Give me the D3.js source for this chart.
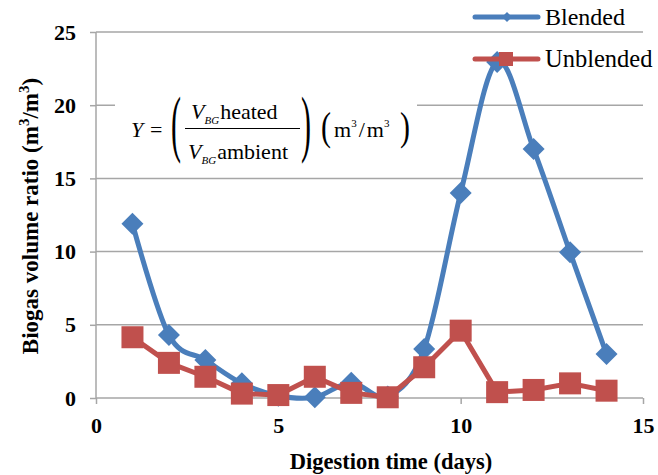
<!DOCTYPE html>
<html>
<head>
<meta charset="utf-8">
<script src="https://cdn.jsdelivr.net/npm/d3@7"></script>
<style>
  body { margin: 0; background: #fff; }
  svg text { font-family: "Liberation Serif", "Times New Roman", "Liberation Sans", Arial, sans-serif; }
</style>
</head>
<body>
<div id="chart"></div>
<script>
// data
var days = [1, 2, 3, 4, 5, 6, 7, 8, 9, 10, 11, 12, 13, 14];
var blended = [11.9, 4.3, 2.6, 1.0, 0.15, 0.05, 1.05, 0.1, 3.35, 14, 22.95, 17, 9.95, 3.0];
var unblended = [4.15, 2.4, 1.45, 0.3, 0.2, 1.45, 0.35, 0.05, 2.1, 4.6, 0.4, 0.55, 1.0, 0.5];
var xTicks = [0, 5, 10, 15];
var yTicks = [0, 5, 10, 15, 20, 25];

var W = 658, H = 475;
var blue = '#4a7ebb', red = '#c0504d', grid = '#a6a6a6';

var svg = d3.select('#chart').append('svg')
  .attr('width', W)
  .attr('height', H);

var x = d3.scaleLinear().domain([0, 15]).range([96, 643]);
var y = d3.scaleLinear().domain([0, 25]).range([398, 32]);

// gridlines
svg.append('g').selectAll('line')
  .data(yTicks.slice(1))
  .enter().append('line')
  .attr('x1', x(0)).attr('x2', x(15))
  .attr('y1', function(d) { return y(d); })
  .attr('y2', function(d) { return y(d); })
  .attr('stroke', grid).attr('stroke-width', 1.5);

// axes
var yAxis = svg.append('g')
  .attr('transform', 'translate(' + x(0) + ',0)')
  .call(d3.axisLeft(y).tickValues(yTicks).tickSize(6).tickPadding(14));
var xAxis = svg.append('g')
  .attr('transform', 'translate(0,' + y(0) + ')')
  .call(d3.axisBottom(x).tickValues(xTicks).tickSize(6).tickPadding(10));

yAxis.attr('font-family', null).attr('font-size', null);
xAxis.attr('font-family', null).attr('font-size', null);
[yAxis, xAxis].forEach(function(a) {
  a.selectAll('path, line').attr('stroke', grid).attr('stroke-width', 1.5);
  a.select('.domain').attr('d', a === yAxis ? 'M0,' + y(25) + 'V' + y(0) : 'M' + x(0) + ',0H' + x(15));
  a.selectAll('text')
    .style('font-size', '22px')
    .style('font-weight', 'bold')
    .attr('fill', '#000');
});
xAxis.selectAll('text').attr('dy', '0.85em');

// axis titles
svg.append('text')
  .attr('x', 391).attr('y', 469)
  .attr('text-anchor', 'middle')
  .style('font-size', '22.5px').style('font-weight', 'bold')
  .text('Digestion time (days)');

var yt = svg.append('text')
  .attr('transform', 'translate(38,216) rotate(-90)')
  .attr('text-anchor', 'middle')
  .style('font-size', '23px').style('font-weight', 'bold');
yt.append('tspan').text('Biogas volume ratio (m');
yt.append('tspan').attr('dy', -9).style('font-size', '15px').text('3');
yt.append('tspan').attr('dy', 9).text('/m');
yt.append('tspan').attr('dy', -9).style('font-size', '15px').text('3');
yt.append('tspan').attr('dy', 9).text(')');

// formula box
svg.append('rect')
  .attr('x', 115).attr('y', 86).attr('width', 302).attr('height', 88)
  .attr('fill', '#fff');

var f = svg.append('g').style('font-size', '22px');
f.append('text').attr('x', 131).attr('y', 137).style('font-style', 'italic').text('Y');
f.append('text').attr('x', 150).attr('y', 137).text('=');
// tall delimiters: normal glyphs stretched vertically
function paren(ch, px, py, sy) {
  f.append('text')
    .attr('transform', 'translate(' + px + ',' + py + ') scale(1,' + sy + ')')
    .style('font-size', '30px').style('font-weight', '300')
    .text(ch);
}
paren('(', 171, 148, 2.5);
paren(')', 301, 148, 2.5);
f.append('line').attr('x1', 185).attr('x2', 300).attr('y1', 128.5).attr('y2', 128.5)
  .attr('stroke', '#000').attr('stroke-width', 1.2);

var num = f.append('text').attr('x', 191).attr('y', 119);
num.append('tspan').style('font-style', 'italic').text('V');
num.append('tspan').attr('dy', 5).style('font-style', 'italic').style('font-size', '11px').text('BG');
num.append('tspan').attr('dy', -5).attr('dx', 1).text('heated');
var den = f.append('text').attr('x', 188).attr('y', 159);
den.append('tspan').style('font-style', 'italic').text('V');
den.append('tspan').attr('dy', 5).style('font-style', 'italic').style('font-size', '11px').text('BG');
den.append('tspan').attr('dy', -5).attr('dx', 1).text('ambient');

paren('(', 321, 140, 1.35);
var units = f.append('text').attr('x', 334).attr('y', 137);
units.append('tspan').text('m');
units.append('tspan').attr('dy', -10).style('font-size', '11px').text('3');
units.append('tspan').attr('dy', 10).attr('dx', 2).text('/');
units.append('tspan').attr('dx', 2).text('m');
units.append('tspan').attr('dy', -10).style('font-size', '11px').text('3');
paren(')', 400, 140, 1.35);

// series
var blendedLine = d3.line()
  .x(function(d, i) { return x(days[i]); })
  .y(function(d) { return y(d); })
  .curve(d3.curveCardinal.tension(0));
var unblendedLine = d3.line()
  .x(function(d, i) { return x(days[i]); })
  .y(function(d) { return y(d); });

svg.append('path').datum(blended)
  .attr('d', blendedLine)
  .attr('fill', 'none').attr('stroke', blue).attr('stroke-width', 5)
  .attr('stroke-linejoin', 'round');

var diamond = 'M0,-11L11,0L0,11L-11,0Z';
svg.append('g').selectAll('path')
  .data(blended)
  .enter().append('path')
  .attr('d', diamond)
  .attr('transform', function(d, i) { return 'translate(' + x(days[i]) + ',' + y(d) + ')'; })
  .attr('fill', blue);

svg.append('path').datum(unblended)
  .attr('d', unblendedLine)
  .attr('fill', 'none').attr('stroke', red).attr('stroke-width', 5)
  .attr('stroke-linejoin', 'round');

svg.append('g').selectAll('rect')
  .data(unblended)
  .enter().append('rect')
  .attr('x', function(d, i) { return x(days[i]) - 11; })
  .attr('y', function(d) { return y(d) - 11; })
  .attr('width', 22).attr('height', 22)
  .attr('fill', red);

// legend
var legend = svg.append('g');
legend.append('line').attr('x1', 475).attr('x2', 538).attr('y1', 17).attr('y2', 17)
  .attr('stroke', blue).attr('stroke-width', 5).attr('stroke-linecap', 'round');
legend.append('path').attr('d', 'M0,-5L5,0L0,5L-5,0Z')
  .attr('transform', 'translate(507,17)').attr('fill', blue);
legend.append('text').attr('x', 545).attr('y', 25).style('font-size', '24px').text('Blended');

legend.append('line').attr('x1', 475).attr('x2', 538).attr('y1', 59).attr('y2', 59)
  .attr('stroke', red).attr('stroke-width', 5).attr('stroke-linecap', 'round');
legend.append('rect').attr('x', 499).attr('y', 52).attr('width', 14).attr('height', 14)
  .attr('fill', red);
legend.append('text').attr('x', 545).attr('y', 67).style('font-size', '24.5px').text('Unblended');
</script>
</body>
</html>
